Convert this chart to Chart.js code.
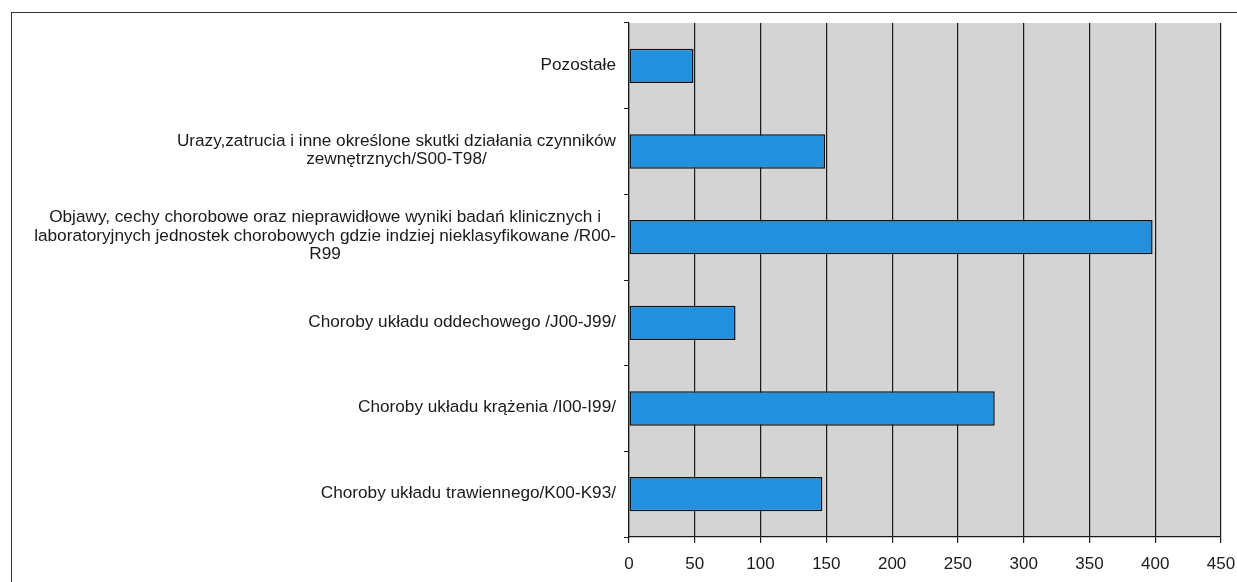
<!DOCTYPE html>
<html>
<head>
<meta charset="utf-8">
<script src="https://cdn.jsdelivr.net/npm/chart.js@4"></script>
<style>
  html, body { margin: 0; padding: 0; background: #fff; }
  #wrap { position: relative; width: 1237px; height: 582px; }
  #frame { position: absolute; left: 11px; top: 12px; right: 0; bottom: 0;
           border-left: 1.5px solid #333; border-top: 1.5px solid #333; }
  canvas { position: absolute; left: 0; top: 0; }
</style>
</head>
<body>
<div id="wrap">
  <div id="frame"></div>
  <canvas id="chart" width="1237" height="582"></canvas>
</div>
<script>
// kategorie (od góry do dołu), linie jak w oryginale
const categories = [
    ['Pozostałe'],
    ['Urazy,zatrucia i inne określone skutki działania czynników', 'zewnętrznych/S00-T98/'],
    ['Objawy, cechy chorobowe oraz nieprawidłowe wyniki badań klinicznych i',
     'laboratoryjnych jednostek chorobowych gdzie indziej nieklasyfikowane /R00-',
     'R99'],
    ['Choroby układu oddechowego /J00-J99/'],
    ['Choroby układu krążenia /I00-I99/'],
    ['Choroby układu trawiennego/K00-K93/']
];
const values = [49, 149, 398, 81, 278, 147];
const xTicks = [0, 50, 100, 150, 200, 250, 300, 350, 400, 450];

const FONT = "'Liberation Sans', Arial, sans-serif";

// szare tło obszaru wykresu
const plotBg = {
    id: 'plotBg',
    beforeDraw(chart) {
        const { ctx, chartArea: a } = chart;
        ctx.save();
        ctx.fillStyle = '#d4d4d4';
        ctx.fillRect(a.left, a.top, a.right - a.left, a.bottom - a.top);
        ctx.restore();
    }
};

// etykiety osi Y: blok wyrównany do prawej, linie wyśrodkowane
const centeredLabels = {
    id: 'centeredLabels',
    afterDraw(chart) {
        const { ctx } = chart;
        const y = chart.scales.y;
        ctx.save();
        ctx.font = '17.2px ' + FONT;
        ctx.fillStyle = '#1a1a1a';
        ctx.textAlign = 'center';
        ctx.textBaseline = 'middle';
        const lh = 18.5;
        y.ticks.forEach((t, i) => {
            const lines = categories[i];
            const w = Math.max(...lines.map(l => ctx.measureText(l).width));
            const cx = y.right - 13 - w / 2;
            const cy = y.getPixelForTick(i) - 1;
            lines.forEach((l, k) => {
                ctx.fillText(l, cx, cy + (k - (lines.length - 1) / 2) * lh);
            });
        });
        ctx.restore();
    }
};

new Chart(document.getElementById('chart').getContext('2d'), {
    type: 'bar',
    data: {
        labels: categories,
        datasets: [{
            data: values,
            backgroundColor: '#2290dc',
            borderColor: '#111',
            borderWidth: 1.5,
            borderSkipped: false,
            barPercentage: 0.4,
            categoryPercentage: 1
        }]
    },
    options: {
        indexAxis: 'y',
        responsive: false,
        animation: false,
        layout: { padding: { top: 23, right: 16, left: 0, bottom: 0 } },
        plugins: { legend: { display: false }, tooltip: { enabled: false } },
        scales: {
            x: {
                min: 0,
                max: 450,
                afterBuildTicks: s => { s.ticks = xTicks.map(v => ({ value: v })); },
                afterFit: s => { s.height = 45; s.paddingRight = 0; s.paddingLeft = 0; },
                grid: { color: '#1a1a1a', lineWidth: 1.2, tickLength: 6, drawTicks: true },
                border: { color: '#1a1a1a', width: 1.2 },
                ticks: { color: '#1a1a1a', font: { family: FONT, size: 17 }, padding: 11, maxRotation: 0 }
            },
            y: {
                afterFit: s => { s.width = 629; },
                grid: { drawOnChartArea: false, color: '#1a1a1a', tickLength: 5 },
                border: { color: '#1a1a1a', width: 1.2 },
                ticks: { color: 'rgba(0,0,0,0)', font: { family: FONT, size: 13 } }
            }
        }
    },
    plugins: [plotBg, centeredLabels]
});
</script>
</body>
</html>
